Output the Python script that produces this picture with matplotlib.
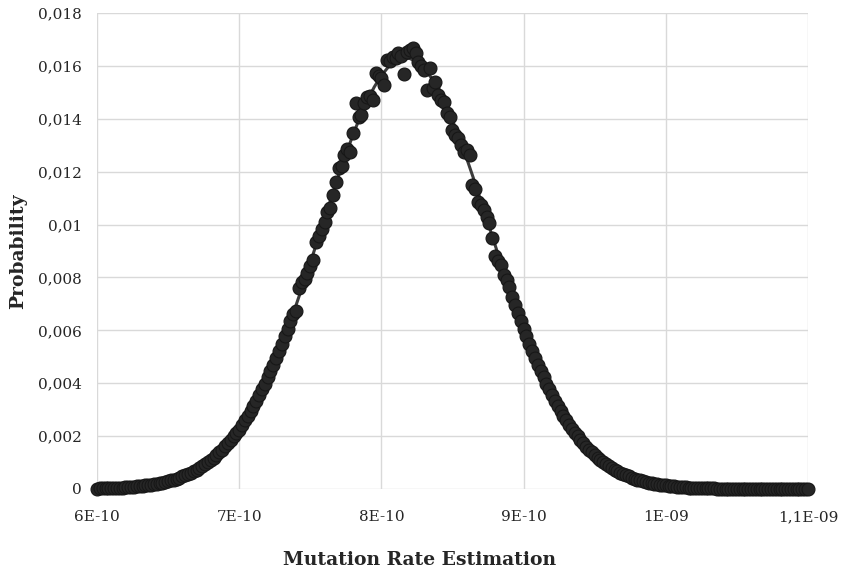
import numpy as np
import matplotlib
matplotlib.use("Agg")
import matplotlib.pyplot as plt

# ---- data ----
# observed points: mutation rate grid 6E-10 .. 1.1E-09, 251 points
rate_start = 6e-10
rate_stop = 1.1e-9
n_points = 251

probability = [
    1.88e-5, 2.13e-5, 2.41e-5, 2.72e-5, 3.07e-5, 3.46e-5, 3.90e-5, 4.38e-5, 4.92e-5, 5.52e-5,
    6.18e-5, 6.92e-5, 7.74e-5, 8.64e-5, 9.64e-5, 1.074e-4, 1.194e-4, 1.328e-4, 1.474e-4, 1.635e-4,
    1.811e-4, 2.004e-4, 2.214e-4, 2.444e-4, 2.695e-4, 2.968e-4, 3.265e-4, 3.588e-4, 3.938e-4, 4.317e-4,
    4.727e-4, 5.170e-4, 5.648e-4, 6.163e-4, 6.719e-4, 7.315e-4, 7.955e-4, 8.641e-4, 9.375e-4, 1.0161e-3,
    1.0999e-3, 1.1892e-3, 1.2845e-3, 1.3856e-3, 1.4930e-3, 1.6073e-3, 1.7279e-3, 1.8554e-3, 1.9900e-3, 2.1323e-3,
    2.2500e-3, 2.4387e-3, 2.6036e-3, 2.7769e-3, 2.9580e-3, 3.1475e-3, 3.3454e-3, 3.5517e-3, 3.7658e-3, 3.9882e-3,
    4.2191e-3, 4.4589e-3, 4.7060e-3, 4.9614e-3, 5.2253e-3, 5.4957e-3, 5.7740e-3, 6.0600e-3, 6.3520e-3, 6.6000e-3,
    6.7500e-3, 7.6000e-3, 7.8300e-3, 7.9500e-3, 8.1700e-3, 8.4500e-3, 8.6600e-3, 9.3400e-3, 9.5500e-3, 9.8500e-3,
    1.0100e-2, 1.0480e-2, 1.0630e-2, 1.1120e-2, 1.1600e-2, 1.2140e-2, 1.2200e-2, 1.2630e-2, 1.2850e-2, 1.2740e-2,
    1.3460e-2, 1.4600e-2, 1.4050e-2, 1.4140e-2, 1.4600e-2, 1.4820e-2, 1.4880e-2, 1.4710e-2, 1.5730e-2, 1.5600e-2,
    1.5550e-2, 1.5280e-2, 1.6220e-2, 1.6180e-2, 1.6340e-2, 1.6280e-2, 1.6490e-2, 1.6360e-2, 1.5690e-2, 1.6520e-2,
    1.6600e-2, 1.6680e-2, 1.6500e-2, 1.6150e-2, 1.5980e-2, 1.5840e-2, 1.5090e-2, 1.5920e-2, 1.5160e-2, 1.5390e-2,
    1.4900e-2, 1.4710e-2, 1.4650e-2, 1.4200e-2, 1.4070e-2, 1.3580e-2, 1.3400e-2, 1.3270e-2, 1.3000e-2, 1.2740e-2,
    1.2820e-2, 1.2630e-2, 1.1500e-2, 1.1350e-2, 1.0850e-2, 1.0750e-2, 1.0550e-2, 1.0280e-2, 1.0060e-2, 9.4900e-3,
    8.8000e-3, 8.6200e-3, 8.4700e-3, 8.1000e-3, 7.9000e-3, 7.6400e-3, 7.2650e-3, 6.9550e-3, 6.6500e-3, 6.3520e-3,
    6.0600e-3, 5.7740e-3, 5.4960e-3, 5.2250e-3, 4.9610e-3, 4.7060e-3, 4.4590e-3, 4.2190e-3, 3.9880e-3, 3.7660e-3,
    3.5520e-3, 3.3450e-3, 3.1480e-3, 2.9580e-3, 2.7770e-3, 2.6040e-3, 2.4390e-3, 2.2820e-3, 2.1320e-3, 1.9900e-3,
    1.8550e-3, 1.7280e-3, 1.6070e-3, 1.4930e-3, 1.3860e-3, 1.2850e-3, 1.1890e-3, 1.1000e-3, 1.0160e-3, 9.38e-4,
    8.64e-4, 7.96e-4, 7.32e-4, 6.72e-4, 6.16e-4, 5.65e-4, 5.17e-4, 4.73e-4, 4.32e-4, 3.94e-4,
    3.59e-4, 3.27e-4, 2.97e-4, 2.70e-4, 2.44e-4, 2.21e-4, 2.00e-4, 1.81e-4, 1.64e-4, 1.47e-4,
    1.33e-4, 1.19e-4, 1.07e-4, 9.6e-5, 8.6e-5, 7.7e-5, 6.9e-5, 6.2e-5, 5.5e-5, 4.9e-5,
    4.4e-5, 3.9e-5, 3.5e-5, 3.1e-5, 2.7e-5, 2.4e-5, 2.1e-5, 1.9e-5, 1.7e-5, 1.5e-5,
    1.3e-5, 1.1e-5, 1.0e-5, 8.7e-6, 7.7e-6, 6.7e-6, 5.9e-6, 5.1e-6, 4.5e-6, 3.9e-6,
    3.4e-6, 2.9e-6, 2.6e-6, 2.2e-6, 1.9e-6, 1.7e-6, 1.4e-6, 1.2e-6, 1.1e-6, 9e-7,
    8e-7, 7e-7, 6e-7, 5e-7, 4e-7, 4e-7, 3e-7, 3e-7, 2e-7, 2e-7,
    2e-7,
]

# fitted smooth curve, every 5E-12
fit_points = 101
fitted = [
    1.88e-5, 2.56e-5, 3.46e-5, 4.64e-5, 6.19e-5, 8.18e-5, 1.073e-4, 1.399e-4, 1.811e-4, 2.327e-4,
    2.969e-4, 3.757e-4, 4.725e-4, 5.90e-4, 7.31e-4, 9.00e-4, 1.100e-3, 1.334e-3, 1.607e-3, 1.922e-3,
    2.282e-3, 2.690e-3, 3.148e-3, 3.658e-3, 4.220e-3, 4.833e-3, 5.496e-3, 6.205e-3, 6.955e-3, 7.741e-3,
    8.554e-3, 9.384e-3, 1.0222e-2, 1.1053e-2, 1.1868e-2, 1.2652e-2, 1.3390e-2, 1.4070e-2, 1.4680e-2, 1.5205e-2,
    1.5637e-2, 1.5966e-2, 1.6186e-2, 1.6291e-2, 1.6279e-2, 1.6151e-2, 1.5909e-2, 1.5559e-2, 1.5107e-2, 1.4564e-2,
    1.3940e-2, 1.3247e-2, 1.2497e-2, 1.1708e-2, 1.0888e-2, 1.0054e-2, 9.218e-3, 8.390e-3, 7.583e-3, 6.802e-3,
    6.060e-3, 5.359e-3, 4.706e-3, 4.103e-3, 3.552e-3, 3.053e-3, 2.605e-3, 2.206e-3, 1.855e-3, 1.549e-3,
    1.284e-3, 1.058e-3, 8.64e-4, 7.01e-4, 5.65e-4, 4.52e-4, 3.59e-4, 2.83e-4, 2.21e-4, 1.72e-4,
    1.33e-4, 1.02e-4, 7.7e-5, 5.8e-5, 4.4e-5, 3.3e-5, 2.4e-5, 1.8e-5, 1.3e-5, 9.3e-6,
    6.7e-6, 4.8e-6, 3.4e-6, 2.4e-6, 1.7e-6, 1.1e-6, 7.9e-7, 5.4e-7, 3.6e-7, 2.5e-7,
    1.6e-7,
]

x_ticks = [6e-10, 7e-10, 8e-10, 9e-10, 1e-9, 1.1e-9]
x_tick_labels = ["6E-10", "7E-10", "8E-10", "9E-10", "1E-09", "1,1E-09"]
y_ticks = [0, 0.002, 0.004, 0.006, 0.008, 0.01, 0.012, 0.014, 0.016, 0.018]
y_tick_labels = ["0", "0,002", "0,004", "0,006", "0,008", "0,01", "0,012", "0,014", "0,016", "0,018"]

x_label = "Mutation Rate Estimation"
y_label = "Probability"

# ---- plot ----
plt.rcParams["font.family"] = ["DejaVu Serif"]

rate = np.linspace(rate_start, rate_stop, n_points)
rate_fit = np.linspace(rate_start, rate_stop, fit_points)

fig = plt.figure(figsize=(8.41, 5.73), dpi=100)
ax = fig.add_axes([97 / 841, 1 - 489 / 573, (808 - 97) / 841, (489 - 13) / 573])

ax.plot(rate_fit, fitted, color="#3c3c3c", lw=2.2, zorder=2, solid_capstyle="round")
ax.plot(rate, probability, linestyle="none", marker="o", ms=9.3,
        mfc="#262626", mec="#171717", mew=0.8, zorder=3, clip_on=False)

ax.set_xlim(rate_start, rate_stop)
ax.set_ylim(0, 0.018)
ax.set_xticks(x_ticks)
ax.set_xticklabels(x_tick_labels)
ax.set_yticks(y_ticks)
ax.set_yticklabels(y_tick_labels)

ax.grid(True, color="#d9d9d9", lw=1.0, zorder=0)
ax.set_axisbelow(True)
for s in ax.spines.values():
    s.set_visible(False)
ax.tick_params(axis="both", length=0, labelsize=11, colors="#262626")
ax.tick_params(axis="x", pad=15)
ax.tick_params(axis="y", pad=11)

ax.set_xlabel(x_label, fontsize=13.5, fontweight="bold", color="#262626")
ax.xaxis.label.set_va("center")
ax.xaxis.set_label_coords((420 - 97) / 711, (489 - 560) / 476)
ax.set_ylabel(y_label, fontsize=13.5, fontweight="bold", color="#262626")
ax.yaxis.label.set_va("center")
ax.yaxis.set_label_coords((18 - 97) / 711, 0.5)

fig.savefig("out.png", dpi=100)
